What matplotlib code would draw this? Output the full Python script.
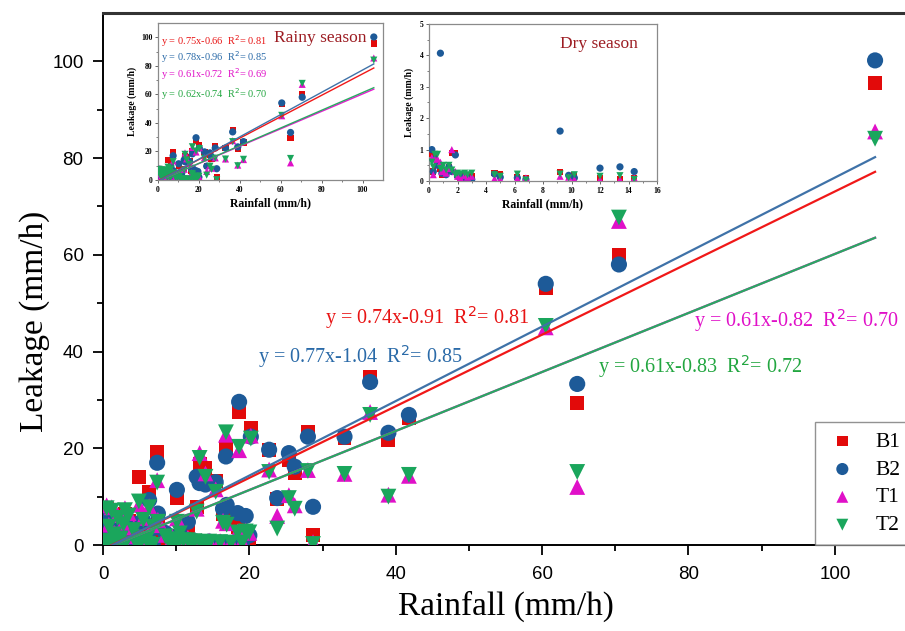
import matplotlib
matplotlib.use("Agg")
import matplotlib.pyplot as plt
import numpy as np

# ---------------- data ----------------
# Rainy-season events: rainfall (mm/h) and leakage (mm/h) of each sensor
rain_wet = [105.5, 70.5, 60.5, 64.8, 36.5, 41.8, 33.0, 39.0, 28.0, 28.7,
            22.7, 25.4, 26.2, 23.8, 20.2, 18.6, 16.8, 7.4, 4.9, 6.3,
            10.1, 11.6, 12.8, 13.2, 14.0, 15.4, 16.9, 18.4, 19.5, 16.4,
            20.0, 0.5, 1.2, 2.0, 2.8, 3.5, 4.2, 1.6, 0.8, 5.5,
            6.8, 8.5, 9.5, 11.0, 12.5, 14.5, 16.0, 19.0, 7.5, 3.0,
            10.5, 2.4, 4.6, 6.0, 13.5, 17.5]
b1_wet = [95.6, 60.0, 53.2, 29.4, 34.8, 26.3, 22.2, 21.7, 23.4, 2.0,
          19.7, 17.6, 14.9, 9.6, 24.2, 27.5, 20.3, 19.2, 14.0, 10.9,
          9.7, 3.3, 7.9, 16.7, 16.0, 13.3, 5.6, 3.8, 3.0, 6.5,
          1.5, 7.5, 6.0, 4.5, 3.0, 5.0, 2.5, 1.5, 3.0, 3.8,
          2.8, 1.5, 1.0, 0.8, 0.6, 0.5, 0.4, 0.3, 4.5, 6.5,
          1.8, 1.0, 1.2, 0.9, 0.4, 0.3]
b2_wet = [100.2, 58.0, 54.0, 33.3, 33.7, 26.9, 22.4, 23.2, 22.4, 7.9,
          19.7, 19.0, 16.2, 9.7, 22.4, 29.6, 18.3, 17.0, 4.5, 9.3,
          11.4, 4.8, 14.1, 12.8, 12.5, 13.0, 8.3, 6.6, 6.0, 7.5,
          2.0, 6.0, 5.0, 3.5, 2.5, 4.0, 2.0, 1.2, 2.5, 5.0,
          3.5, 2.5, 1.5, 1.0, 0.8, 0.7, 0.5, 0.5, 6.5, 5.5,
          2.2, 0.8, 1.0, 1.2, 0.6, 0.4]
t1_wet = [85.5, 67.0, 45.0, 12.0, 27.5, 14.3, 14.7, 10.4, 15.5, 0.6,
          15.6, 10.3, 8.2, 6.0, 22.6, 19.6, 22.8, 13.4, 8.3, 8.0,
          5.5, 1.5, 7.5, 19.0, 14.8, 11.5, 4.5, 2.8, 3.0, 5.0,
          2.5, 8.2, 7.8, 6.2, 4.6, 6.6, 3.6, 2.5, 4.2, 5.6,
          4.1, 2.1, 1.6, 1.3, 1.1, 0.9, 0.8, 0.7, 5.2, 7.6,
          2.6, 1.5, 1.8, 1.4, 0.8, 0.6]
t2_wet = [84.0, 67.7, 45.3, 15.1, 26.9, 14.5, 14.7, 10.0, 15.3, 0.2,
          15.1, 9.7, 7.5, 3.4, 22.0, 20.3, 23.3, 12.9, 9.0, 7.8,
          4.8, 1.0, 6.9, 18.0, 14.1, 11.0, 4.2, 2.6, 2.8, 4.6,
          2.6, 7.6, 7.1, 5.6, 4.3, 6.1, 3.1, 2.2, 3.8, 5.2,
          3.8, 1.8, 1.2, 1.0, 0.8, 0.7, 0.6, 0.5, 4.8, 7.2,
          2.4, 1.3, 1.6, 1.2, 0.6, 0.5]

# Dry-season events
rain_dry = [0.2, 0.4, 0.6, 0.8, 1.0, 1.4, 1.6, 1.85, 2.0, 2.5,
            3.0, 4.6, 5.0, 6.2, 6.8, 9.2, 9.8, 10.2, 12.0, 13.4,
            14.4, 0.3, 0.9, 1.2, 2.2, 2.7]
b1_dry = [0.85, 0.8, 0.5, 0.4, 0.3, 0.45, 0.9, 0.9, 0.2, 0.2,
          0.15, 0.25, 0.22, 0.12, 0.08, 0.28, 0.15, 0.2, 0.1, 0.05,
          0.08, 0.3, 0.2, 0.25, 0.1, 0.1]
b2_dry = [1.0, 0.7, 0.5, 4.07, 0.3, 0.45, 0.3, 0.83, 0.15, 0.1,
          0.05, 0.22, 0.12, 0.1, 0.05, 1.59, 0.18, 0.1, 0.41, 0.45,
          0.3, 0.3, 0.25, 0.2, 0.15, 0.1]
t1_dry = [0.75, 0.7, 0.7, 0.6, 0.35, 0.4, 1.0, 0.3, 0.15, 0.18,
          0.15, 0.08, 0.06, 0.08, 0.1, 0.15, 0.12, 0.05, 0.05, 0.05,
          0.1, 0.2, 0.3, 0.25, 0.1, 0.12]
t2_dry = [0.6, 0.85, 0.85, 0.4, 0.5, 0.5, 0.35, 0.2, 0.25, 0.25,
          0.25, 0.2, 0.15, 0.22, 0.03, 0.22, 0.1, 0.2, 0.15, 0.17,
          0.05, 0.45, 0.4, 0.35, 0.22, 0.2]

sensors = ["B1", "B2", "T1", "T2"]
# linear fits: slope, intercept, R2 (all data / rainy season)
fit_all = {"B1": (0.74, -0.91, 0.81), "B2": (0.77, -1.04, 0.85),
           "T1": (0.61, -0.82, 0.70), "T2": (0.61, -0.83, 0.72)}
fit_wet = {"B1": (0.75, -0.66, 0.81), "B2": (0.78, -0.96, 0.85),
           "T1": (0.61, -0.72, 0.69), "T2": (0.62, -0.74, 0.70)}
fit_xmax = 105.5

# ---------------- style ----------------
SERIF = "Liberation Serif"
SANS = "Liberation Sans"
mcol = {"B1": "#e20a0a", "B2": "#1d5a98", "T1": "#e010c8", "T2": "#1aa65c"}
lcol = {"B1": "#f01818", "B2": "#3f72a8", "T1": "#e818d0", "T2": "#2aa862"}
tcol = {"B1": "#e81414", "B2": "#2a6aa8", "T1": "#e010c8", "T2": "#22a640"}
mshape = {"B1": "s", "B2": "o", "T1": "^", "T2": "v"}
msize = {"B1": 100, "B2": 135, "T1": 130, "T2": 130}

wet = {"B1": b1_wet, "B2": b2_wet, "T1": t1_wet, "T2": t2_wet}
dry = {"B1": b1_dry, "B2": b2_dry, "T1": t1_dry, "T2": t2_dry}

W, H = 905, 631
fig = plt.figure(figsize=(W / 100, H / 100), dpi=100)

# main axes (right edge falls just outside the picture, as in the reference)
L, R, T, B = 103, 908, 13, 545
ax = fig.add_axes([L / W, (H - B) / H, (R - L) / W, (B - T) / H])
ax.set_xlim(0, 110)
ax.set_ylim(0, 110)

for s in sensors:
    x = np.array(rain_wet + rain_dry)
    y = np.array(wet[s] + dry[s])
    ax.scatter(x, y, marker=mshape[s], s=msize[s], color=mcol[s],
               edgecolors="none", label=s, zorder=3)

xx = np.array([0.0, fit_xmax])
order_lines = ["T1", "T2", "B1", "B2"]
for s in order_lines:
    k, b, r2 = fit_all[s]
    ax.plot(xx, k * xx + b, color=lcol[s], lw=1.6, zorder=4)

eq_pos = {"B1": (30.3, 47.0), "B2": (21.2, 39.0), "T1": (80.8, 46.5), "T2": (67.6, 37.0)}
for s in sensors:
    k, b, r2 = fit_all[s]
    ax.text(eq_pos[s][0], eq_pos[s][1],
            "y = %.2fx%.2f  R$^{2}$= %.2f" % (k, b, r2),
            color=tcol[s], fontsize=14.5,
            family=SERIF, va="center", ha="left", zorder=5)

ax.set_xticks(np.arange(0, 101, 20))
ax.set_xticks(np.arange(10, 110, 20), minor=True)
ax.set_yticks(np.arange(0, 101, 20))
ax.set_yticks(np.arange(10, 110, 20), minor=True)
ax.tick_params(axis="x", which="major", direction="out", length=7, width=1.3,
               labelsize=13.5, pad=8)
ax.tick_params(axis="y", which="major", direction="out", length=7, width=1.3,
               labelsize=13.5, pad=7)
ax.tick_params(which="minor", direction="out", length=4, width=1.3)
for lab in ax.get_xticklabels() + ax.get_yticklabels():
    lab.set_family(SANS)
for sp in ax.spines.values():
    sp.set_linewidth(1.4)
ax.spines["top"].set_linewidth(2.2)
ax.spines["top"].set_color("#333333")

ax.set_xlabel("Rainfall (mm/h)", family=SERIF, fontsize=24)
ax.set_ylabel("Leakage (mm/h)", family=SERIF, fontsize=24)
ax.xaxis.set_label_coords(0.5, -0.085)
ax.yaxis.set_label_coords(-0.066, 0.42)

leg = ax.legend(loc="lower left", bbox_to_anchor=(0.885, 0.0),
                bbox_transform=ax.transAxes, borderaxespad=0,
                frameon=True, fancybox=False, edgecolor="#777777",
                prop={"family": SERIF, "size": 15.5}, labelspacing=0.36,
                handletextpad=0.75, borderpad=0.45, markerscale=0.75,
                handlelength=1.6)
leg.get_frame().set_linewidth(1.0)
leg.set_zorder(6)


def style_inset(a):
    for sp in a.spines.values():
        sp.set_color("#8a8a8a")
        sp.set_linewidth(0.9)
    a.tick_params(which="major", direction="out", length=2.5, width=0.7,
                  labelsize=5.5, pad=1.5, color="#666666")
    a.tick_params(which="minor", direction="out", length=1.5, width=0.6,
                  color="#666666")
    for lab in a.get_xticklabels() + a.get_yticklabels():
        lab.set_family(SERIF)
        lab.set_fontweight("bold")


# rainy-season inset
il, ir, it, ib = 158, 383, 23, 180
ax1 = fig.add_axes([il / W, (H - ib) / H, (ir - il) / W, (ib - it) / H])
ax1.set_xlim(0, 110)
ax1.set_ylim(0, 110)
for s in sensors:
    ax1.scatter(rain_wet, wet[s], marker=mshape[s], s=msize[s] * 0.2,
                color=mcol[s], edgecolors="none", zorder=3)
for s in order_lines:
    k, b, r2 = fit_wet[s]
    ax1.plot(xx, k * xx + b, color=lcol[s], lw=1.0, zorder=4)
ax1.set_xticks(np.arange(0, 101, 20))
ax1.set_xticks(np.arange(10, 110, 20), minor=True)
ax1.set_yticks(np.arange(0, 101, 20))
ax1.set_yticks(np.arange(10, 110, 20), minor=True)
style_inset(ax1)
ax1.set_xlabel("Rainfall (mm/h)", family=SERIF, fontweight="bold", fontsize=8.5, labelpad=3)
ax1.set_ylabel("Leakage (mm/h)", family=SERIF, fontweight="bold", fontsize=7, labelpad=3)
eq_y = [0.885, 0.78, 0.675, 0.55]
for s, yy in zip(sensors, eq_y):
    k, b, r2 = fit_wet[s]
    ax1.text(0.015, yy, "y = %.2fx%.2f  R$^{2}$= %.2f" % (k, b, r2),
             transform=ax1.transAxes, color=tcol[s],
             fontsize=7.5, family=SERIF, va="center", ha="left", zorder=5)
ax1.text(0.515, 0.905, "Rainy season", transform=ax1.transAxes,
         color="#9c1c22", fontsize=12.5, family=SERIF, va="center", ha="left")

# dry-season inset
dl, dr, dt, db = 429, 657, 24, 181
ax2 = fig.add_axes([dl / W, (H - db) / H, (dr - dl) / W, (db - dt) / H])
ax2.set_xlim(0, 16)
ax2.set_ylim(0, 5)
for s in sensors:
    ax2.scatter(rain_dry, dry[s], marker=mshape[s], s=msize[s] * 0.2,
                color=mcol[s], edgecolors="none", zorder=3)
ax2.set_xticks(np.arange(0, 17, 2))
ax2.set_xticks(np.arange(1, 16, 2), minor=True)
ax2.set_yticks(np.arange(0, 6, 1))
ax2.set_yticks(np.arange(0.5, 5, 1), minor=True)
style_inset(ax2)
ax2.set_xlabel("Rainfall (mm/h)", family=SERIF, fontweight="bold", fontsize=8.5, labelpad=3)
ax2.set_ylabel("Leakage (mm/h)", family=SERIF, fontweight="bold", fontsize=7, labelpad=4)
ax2.text(0.575, 0.87, "Dry season", transform=ax2.transAxes,
         color="#9c1c22", fontsize=12.5, family=SERIF, va="center", ha="left")

fig.savefig("out.png", dpi=100)
